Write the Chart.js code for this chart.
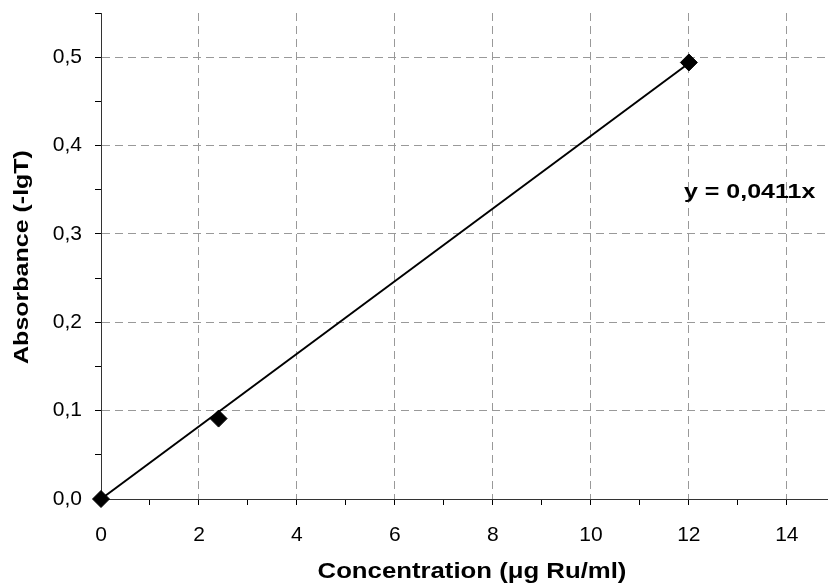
<!DOCTYPE html>
<html>
<head>
<meta charset="utf-8">
<script src="https://cdn.jsdelivr.net/npm/chart.js@4/dist/chart.umd.min.js"></script>
<style>
  html, body { margin: 0; padding: 0; background: #fff; }
  canvas { display: block; }
</style>
</head>
<body>
<canvas id="grafico" width="828" height="585"></canvas>
<script>
// pontos medidos (concentração x absorbância)
const concentracoes = [0, 2.4, 12];
const absorbancias = [0, 0.091, 0.494];
// reta de calibração y = 0,0411x
const inclinacao = 0.0411;
const retaX = [0, 12];
const equacao = 'y = 0,0411x';
const tituloX = 'Concentration (\u03bcg Ru/ml)';
const tituloY = 'Absorbance (-lgT)';

const fonte = '"Liberation Sans", Arial, sans-serif';

const pontos = concentracoes.map((c, i) => ({ x: c, y: absorbancias[i] }));
const reta = retaX.map(c => ({ x: c, y: c * inclinacao }));

// textos desenhados a mao (equacao e titulos dos eixos, um pouco esticados como no original)
const textos = {
    id: 'textos',
    afterDraw(chart) {
        const ctx = chart.ctx;
        const sx = chart.scales.x, sy = chart.scales.y;
        ctx.save();
        ctx.fillStyle = '#000';

        // equacao
        ctx.font = 'bold 20px ' + fonte;
        ctx.textAlign = 'left';
        ctx.textBaseline = 'alphabetic';
        ctx.save();
        ctx.translate(sx.getPixelForValue(11.9), sy.getPixelForValue(0.341));
        ctx.scale(1.25, 1);
        ctx.fillText(equacao, 0, 0);
        ctx.restore();

        // titulo do eixo x
        ctx.font = 'bold 22px ' + fonte;
        ctx.textAlign = 'center';
        ctx.textBaseline = 'middle';
        ctx.save();
        ctx.translate(472, 572);
        ctx.scale(1.17, 1);
        ctx.fillText(tituloX, 0, 0);
        ctx.restore();

        // titulo do eixo y
        ctx.font = 'bold 20px ' + fonte;
        ctx.save();
        ctx.translate(22, 257);
        ctx.rotate(-Math.PI / 2);
        ctx.scale(1.25, 1);
        ctx.fillText(tituloY, 0, 0);
        ctx.restore();

        ctx.restore();
    }
};

const ctx = document.getElementById('grafico').getContext('2d');
new Chart(ctx, {
    type: 'scatter',
    data: {
        datasets: [
            {
                data: reta,
                showLine: true,
                borderColor: '#000',
                borderWidth: 2,
                pointRadius: 0,
                clip: false,
                order: 2
            },
            {
                data: pontos,
                pointStyle: 'rectRot',
                pointRadius: 8.5,
                pointBackgroundColor: '#000',
                pointBorderColor: '#000',
                pointBorderWidth: 1,
                clip: false,
                order: 1
            }
        ]
    },
    options: {
        responsive: false,
        animation: false,
        layout: { autoPadding: false, padding: { top: 13, right: 0, left: 0, bottom: 0 } },
        plugins: { legend: { display: false }, tooltip: { enabled: false } },
        scales: {
            x: {
                type: 'linear',
                min: 0,
                max: 14.84,
                afterBuildTicks: s => {
                    s.ticks = [];
                    for (let i = 0; i <= 14; i++) s.ticks.push({ value: i });
                },
                afterFit: s => { s.height = 86; s.paddingLeft = 0; s.paddingRight = 0; },
                ticks: {
                    autoSkip: false,
                    maxRotation: 0,
                    padding: 18,
                    color: '#000',
                    font: { family: fonte, size: 21 },
                    callback: v => (v % 2 === 0 ? String(v) : '')
                },
                grid: {
                    color: c => (c.tick && c.tick.value % 2 === 0 && c.tick.value !== 0 ? '#999' : 'rgba(0,0,0,0)'),
                    tickColor: '#000',
                    tickLength: 6,
                    lineWidth: 1
                },
                border: { display: true, color: '#333', width: 1, dash: [8, 5] }
            },
            y: {
                type: 'linear',
                min: 0,
                max: 0.55,
                afterBuildTicks: s => {
                    s.ticks = [];
                    for (let i = 0; i <= 11; i++) s.ticks.push({ value: i * 0.05 });
                },
                afterFit: s => { s.width = 101; s.paddingTop = 0; s.paddingBottom = 0; },
                ticks: {
                    autoSkip: false,
                    padding: 13,
                    color: '#000',
                    font: { family: fonte, size: 21 },
                    callback: v => {
                        const n = Math.round(v * 100);
                        return n % 10 === 0 ? (n / 100).toFixed(1).replace('.', ',') : '';
                    }
                },
                grid: {
                    color: c => {
                        if (!c.tick) return 'rgba(0,0,0,0)';
                        const n = Math.round(c.tick.value * 100);
                        return n % 10 === 0 && n !== 0 ? '#999' : 'rgba(0,0,0,0)';
                    },
                    tickColor: '#000',
                    tickLength: 6,
                    lineWidth: 1
                },
                border: { display: true, color: '#333', width: 1, dash: [8, 5] }
            }
        }
    },
    plugins: [textos]
});
</script>
</body>
</html>
